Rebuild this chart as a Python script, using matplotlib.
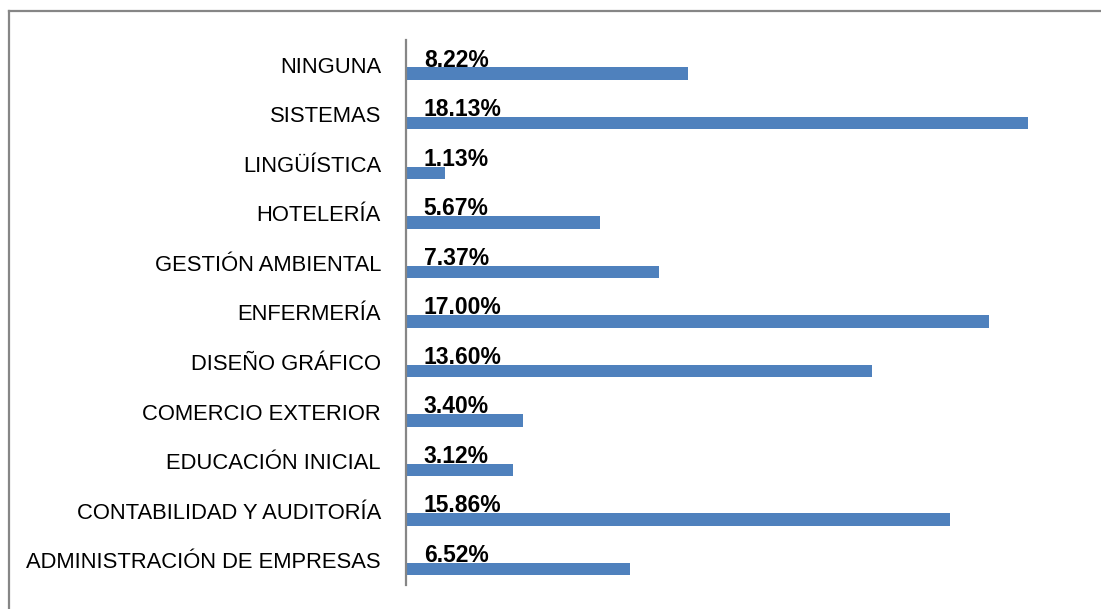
import matplotlib
matplotlib.use("Agg")
import matplotlib.pyplot as plt
from matplotlib.lines import Line2D

categories = [
    "ADMINISTRACIÓN DE EMPRESAS",
    "CONTABILIDAD Y AUDITORÍA",
    "EDUCACIÓN INICIAL",
    "COMERCIO EXTERIOR",
    "DISEÑO GRÁFICO",
    "ENFERMERÍA",
    "GESTIÓN AMBIENTAL",
    "HOTELERÍA",
    "LINGÜÍSTICA",
    "SISTEMAS",
    "NINGUNA",
]
values = [6.52, 15.86, 3.12, 3.40, 13.60, 17.00, 7.37, 5.67, 1.13, 18.13, 8.22]

BAR_COLOR = "#4F81BD"
GRID_GRAY = "#868686"
W, H = 1101, 609

plt.rcParams["font.family"] = ["Liberation Sans", "DejaVu Sans"]

fig = plt.figure(figsize=(W / 100, H / 100), dpi=100)
ax = fig.add_axes([406 / W, 1 - 585 / H, 686 / W, (585 - 40) / H])

pos = list(range(len(categories)))
off, h = -0.18, 0.25
ax.barh([p + off for p in pos], values, height=h, color=BAR_COLOR, linewidth=0)

for p, v in zip(pos, values):
    ax.text(0.52, p + off + h / 2 + 0.02, f"{v:.2f}%", ha="left", va="baseline",
            fontsize=16.5, fontweight="bold", color="black")

ax.set_xlim(0, 20)
ax.set_ylim(-0.5, len(categories) - 0.5)
ax.set_yticks(pos)
ax.set_yticklabels(categories, fontsize=15.8)
ax.tick_params(axis="y", length=0, pad=18)
ax.set_xticks([])
for s in ("top", "right", "bottom"):
    ax.spines[s].set_visible(False)
ax.spines["left"].set_color(GRID_GRAY)
ax.spines["left"].set_linewidth(1.6)

# outer chart border (extends past right / bottom edge)
bx, by = 8.5 / W, 1 - 10.5 / H
fig.add_artist(Line2D([bx, bx], [0, by], transform=fig.transFigure, color=GRID_GRAY, lw=1.6))
fig.add_artist(Line2D([bx, 1], [by, by], transform=fig.transFigure, color=GRID_GRAY, lw=1.6))

fig.savefig("out.png", dpi=100, facecolor="white")
